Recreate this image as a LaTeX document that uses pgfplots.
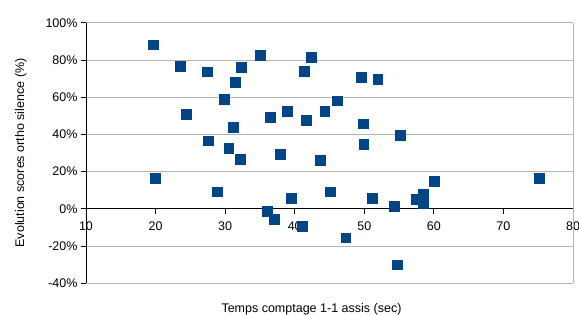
\documentclass[border=0pt]{standalone}
\usepackage{fontspec}
\setmainfont{Liberation Sans}
\usepackage{pgfplots}
\pgfplotsset{compat=1.18}
\definecolor{mk}{HTML}{004586}
\definecolor{gr}{HTML}{B3B3B3}
\begin{document}
\begin{tikzpicture}
\useasboundingbox (-86bp,-31.7bp) rectangle (493bp,283.3bp);
\begin{axis}[
 at={(0,0)}, anchor=south west,
 scale only axis, width=487bp, height=260.6bp,
 xmin=10, xmax=80, ymin=-40, ymax=100,
 axis x line=middle, axis y line=left,
 axis line style={-, black, line width=0.8pt},
 hide obscured x ticks=false, hide obscured y ticks=false,
 xtick={10,20,...,80}, ytick={-40,-20,...,100},
 yticklabels={-40\%,-20\%,0\%,20\%,40\%,60\%,80\%,100\%},
 tick align=outside, major tick length=5bp,
 tick style={black, line width=0.8pt},
 ymajorgrids, grid style={gr, line width=0.8pt},
 font=\fontsize{12.5bp}{15bp}\selectfont,
 /pgf/number format/assume math mode=true,
 xticklabel style={yshift=-4bp},
 xlabel={Temps comptage 1-1 assis (sec)},
 ylabel={Evolution scores ortho silence (\%)},
 xlabel style={at={(axis description cs:0.463,0)}, anchor=center, yshift=-26.2bp},
 ylabel style={at={(axis description cs:-0.1335,0.5)}, anchor=center},
 clip=false,
]
\draw[gr, line width=0.8pt] (rel axis cs:1,0) -- (rel axis cs:1,1);
\addplot[only marks, mark=square*, mark size=4.9bp, mark options={fill=mk, draw=mk, line width=0.2pt}] coordinates {
(19.6,88.2) (23.5,76.7) (24.4,50.7) (27.4,73.7) (32.3,76.2) (31.4,68.1)
(35.0,82.6) (29.8,58.8) (31.1,43.8) (27.6,36.7) (36.5,49.1) (38.9,52.5)
(41.4,73.9) (42.3,81.6) (49.5,70.8) (51.9,69.5) (41.6,47.6) (44.3,52.5)
(46.1,58.1) (49.8,45.8) (49.9,34.9) (55.2,39.7) (37.9,29.6) (43.7,26.0)
(30.5,32.5) (32.2,26.8) (19.9,16.5) (28.9,9.3) (36.0,-1.1) (37.0,-5.6)
(39.5,5.8) (41.1,-9.2) (45.1,9.3) (47.3,-15.5) (51.1,5.8) (54.3,1.6)
(54.7,-30.0) (57.4,5.2) (58.4,7.9) (58.4,3.1) (60.0,15.1) (75.1,16.5)
};
\end{axis}
\end{tikzpicture}
\end{document}
